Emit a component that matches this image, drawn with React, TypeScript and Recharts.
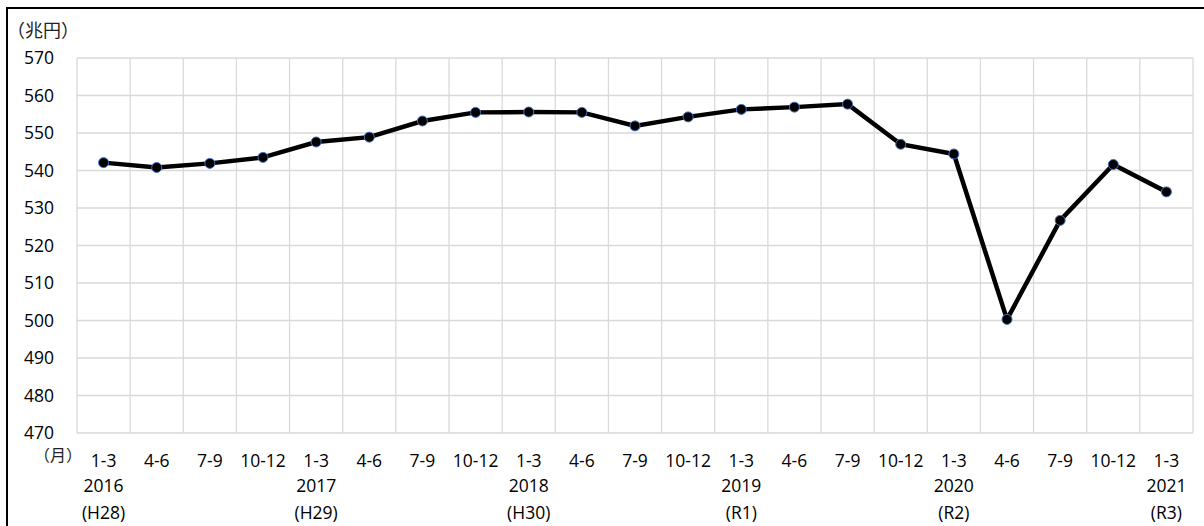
import { LineChart, Line, XAxis, YAxis, CartesianGrid } from "recharts";

const quarters = [
  "1-3", "4-6", "7-9", "10-12",
  "1-3", "4-6", "7-9", "10-12",
  "1-3", "4-6", "7-9", "10-12",
  "1-3", "4-6", "7-9", "10-12",
  "1-3", "4-6", "7-9", "10-12",
  "1-3",
];
const years = [
  "2016", "", "", "", "2017", "", "", "", "2018", "", "", "",
  "2019", "", "", "", "2020", "", "", "", "2021",
];
const eras = [
  "(H28)", "", "", "", "(H29)", "", "", "", "(H30)", "", "", "",
  "(R1)", "", "", "", "(R2)", "", "", "", "(R3)",
];
const gdp = [
  542.1, 540.8, 541.9, 543.5,
  547.6, 548.9, 553.2, 555.5,
  555.6, 555.5, 551.9, 554.3,
  556.3, 556.9, 557.7, 547.0,
  544.4, 500.3, 526.7, 541.6,
  534.3,
];
const yTicks = [470, 480, 490, 500, 510, 520, 530, 540, 550, 560, 570];

const data = quarters.map((q, i) => ({ key: i, quarter: q, value: gdp[i] }));

const FONT = "'Open Sans', 'Liberation Sans', sans-serif";
const CJK = "'Noto Sans CJK JP', sans-serif";
const W = 1204;
const H = 526;
const LEFT = 77;
const RIGHT = 11;
const PLOT_W = W - LEFT - RIGHT;
const HALF_BAND = PLOT_W / quarters.length / 2;

function QuarterTick({ x, y, payload }: any) {
  const i = payload.index;
  return (
    <g transform={`translate(${x},${y})`}>
      <text textAnchor="middle" fontSize={17.5} fill="#000" fontFamily={FONT}>
        <tspan x={0} y={34}>{quarters[i]}</tspan>
        {years[i] && <tspan x={0} y={59}>{years[i]}</tspan>}
        {eras[i] && <tspan x={0} y={86}>{eras[i]}</tspan>}
      </text>
    </g>
  );
}

export default function App() {
  return (
    <div style={{ position: "fixed", left: 0, top: 0, width: W, height: H, overflow: "hidden", background: "#fff" }}>
      <div style={{ position: "absolute", left: 6, top: 7, width: 1300, height: 600, border: "2px solid #000" }} />
      <span style={{ position: "absolute", left: 7, top: 20, fontFamily: CJK, fontSize: 18, lineHeight: "18px", color: "#222" }}>（兆円）</span>
      <span style={{ position: "absolute", left: 34, top: 446, fontFamily: CJK, fontSize: 16, lineHeight: "16px", color: "#222" }}>（月）</span>
      <div style={{ position: "absolute", left: 0, top: 0 }}>
        <LineChart width={W} height={H} data={data} margin={{ top: 58, right: RIGHT, left: 0, bottom: 0 }}>
          <CartesianGrid
            stroke="#d9d9d9"
            strokeWidth={1.3}
            verticalCoordinatesGenerator={({ offset }: any) =>
              Array.from({ length: quarters.length + 1 }, (_, i) => offset.left + (offset.width * i) / quarters.length)
            }
          />
          <XAxis
            dataKey="key"
            type="category"
            interval={0}
            padding={{ left: HALF_BAND, right: HALF_BAND }}
            axisLine={false}
            tickLine={false}
            tickSize={0}
            tickMargin={0}
            height={93}
            tick={<QuarterTick />}
          />
          <YAxis
            domain={[470, 570]}
            ticks={yTicks}
            interval={0}
            width={LEFT}
            axisLine={false}
            tickLine={false}
            tickSize={0}
            tickMargin={23}
            tick={{ fill: "#000", fontSize: 17.5, fontFamily: FONT }}
          />
          <Line
            dataKey="value"
            type="linear"
            stroke="#000"
            strokeWidth={4.5}
            dot={{ r: 5, fill: "#000", stroke: "#4472C4", strokeWidth: 1 }}
            activeDot={false}
            isAnimationActive={false}
          />
        </LineChart>
      </div>
    </div>
  );
}
